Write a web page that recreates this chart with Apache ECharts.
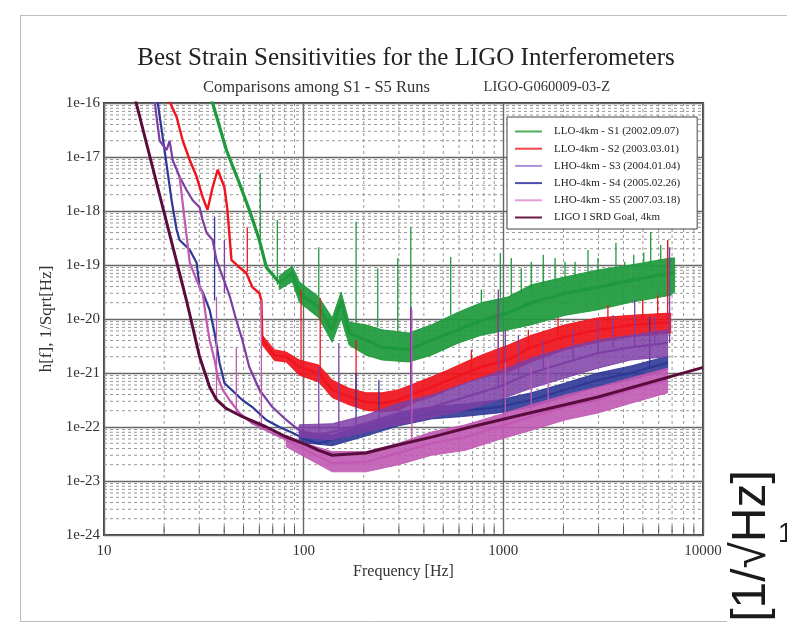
<!DOCTYPE html>
<html><head><meta charset="utf-8">
<script src="https://cdn.jsdelivr.net/npm/echarts@6/dist/echarts.min.js"></script>
<style>html,body{margin:0;padding:0;background:#fff}#c{width:787px;height:635px}</style>
</head><body><div id="c"></div>
<script>
// ---------------- DATA ----------------
const legendNames = ['LLO-4km - S1 (2002.09.07)','LLO-4km - S2 (2003.03.01)','LHO-4km - S3 (2004.01.04)','LHO-4km - S4 (2005.02.26)','LHO-4km - S5 (2007.03.18)','LIGO I SRD Goal, 4km'];
const xTicks = [10, 100, 1000, 10000];
const yTickExp = [-24,-23,-22,-21,-20,-19,-18,-17,-16];

// S1 (green)
const s1Freq = [34, 35.0, 41.0, 47.6, 53.4, 60.0, 65.0, 75.5, 87.7, 95.1, 119, 139, 154, 169, 205, 247, 336, 437, 597, 776, 1059, 1380, 2037, 2978, 4350, 6890, 7210];
const s1H = [1.45e-16, 1.0e-16, 1.35e-17, 3.3e-18, 1.05e-18, 2.9e-19, 9.1e-20, 4.7e-20, 7.1e-20, 3.0e-20, 1.66e-20, 6.3e-21, 2.24e-20, 5.5e-21, 4.1e-21, 3.0e-21, 2.7e-21, 4.1e-21, 6.3e-21, 9.5e-21, 1.3e-20, 2.0e-20, 3.0e-20, 3.9e-20, 5.2e-20, 7.1e-20, 7.3e-20];
const s1BandFreq = [75.5, 87.7, 95.1, 119, 139, 154, 169, 205, 247, 336, 437, 597, 776, 1059, 1380, 2037, 2978, 4350, 6890, 7210];
const s1BandHi = [6.3e-20, 9.5e-20, 4.9e-20, 2.57e-20, 1.05e-20, 3.16e-20, 8.7e-21, 7.8e-21, 6.3e-21, 5.5e-21, 7.8e-21, 1.35e-20, 2.0e-20, 2.57e-20, 4.3e-20, 6.0e-20, 8.1e-20, 1.0e-19, 1.35e-19, 1.35e-19];
const s1BandLo = [3.5e-20, 4.9e-20, 2.04e-20, 1.05e-20, 3.7e-21, 1.05e-20, 3.3e-21, 2.14e-21, 1.74e-21, 1.6e-21, 2.14e-21, 3.6e-21, 5.0e-21, 6.3e-21, 7.8e-21, 1.17e-20, 1.48e-20, 2.04e-20, 2.75e-20, 3.16e-20];
const s1SpikeFreq = [60.6, 73.8, 119, 183, 235, 296, 344, 545, 776, 966, 1096, 1230, 1380, 1585, 1816, 2037, 2286, 2655, 2978, 3664, 4055, 4500, 5050, 5470, 6140, 6650];
const s1SpikeBase = [2.9e-19, 4.3e-20, 2.57e-20, 8e-21, 7e-21, 6e-21, 6e-21, 1.2e-20, 2e-20, 2.5e-20, 2.6e-20, 3e-20, 3.5e-20, 4e-20, 5e-20, 5.5e-20, 6e-20, 7e-20, 7.5e-20, 9e-20, 9e-20, 9.5e-20, 1e-19, 1.1e-19, 1.2e-19, 1.3e-19];
const s1SpikeTop = [5.0e-18, 6.8e-19, 2.14e-19, 6.3e-19, 8.7e-20, 1.35e-19, 5.0e-19, 1.41e-19, 3.5e-20, 1.66e-19, 1.35e-19, 8.7e-20, 1.15e-19, 1.55e-19, 1.35e-19, 1.15e-19, 1.15e-19, 1.9e-19, 1.35e-19, 2.57e-19, 1.15e-19, 1.55e-19, 1.7e-19, 4.1e-19, 2.34e-19, 2.9e-19];

// S2 (red)
const s2Freq = [20.6, 23.1, 24.8, 26.9, 29.1, 31.2, 33.0, 35.0, 37.1, 40.1, 41.5, 43.5, 47.6, 51.6, 55.3, 60.0, 61.4, 62.1, 71.3, 81.8, 95.1, 119, 139, 169, 205, 247, 299, 364, 437, 532, 646, 776, 1059, 1380, 2037, 2978, 4350, 6890];
const s2H = [1.4e-16, 5.5e-17, 2.0e-17, 8.7e-18, 4.3e-18, 1.8e-18, 1.05e-18, 2.75e-18, 5.8e-18, 2.75e-18, 1.05e-18, 1.23e-19, 9.1e-20, 7.1e-20, 3.9e-20, 3.0e-20, 2.24e-20, 4.1e-21, 2.14e-21, 2.0e-21, 1.29e-21, 1.0e-21, 4.9e-22, 3.6e-22, 2.9e-22, 2.75e-22, 3.16e-22, 4.3e-22, 5.5e-22, 7.4e-22, 1.0e-21, 1.29e-21, 1.74e-21, 3.0e-21, 4.7e-21, 6.3e-21, 7.8e-21, 8.7e-21];
const s2BandFreq = [62.1, 71.3, 81.8, 95.1, 119, 139, 169, 205, 247, 299, 364, 437, 532, 646, 776, 1059, 1380, 2037, 2978, 4350, 6890];
const s2BandHi = [5.0e-21, 2.7e-21, 2.45e-21, 1.74e-21, 1.41e-21, 7.4e-22, 5.2e-22, 4.3e-22, 4.3e-22, 4.9e-22, 6.5e-22, 8.5e-22, 1.15e-21, 1.6e-21, 2.14e-21, 3.3e-21, 5.0e-21, 7.8e-21, 1.05e-20, 1.17e-20, 1.29e-20];
const s2BandLo = [3.3e-21, 1.7e-21, 1.6e-21, 9.1e-22, 6.8e-22, 3.5e-22, 2.57e-22, 2.04e-22, 1.9e-22, 2.04e-22, 2.9e-22, 3.6e-22, 4.9e-22, 6.5e-22, 8.1e-22, 1.05e-21, 1.6e-21, 2.7e-21, 3.7e-21, 4.7e-21, 5.5e-21];
const s2SpikeFreq = [52.2, 97.0, 121, 183, 344, 692, 944, 1334, 1880, 3340, 4990, 5930, 6650];
const s2SpikeBase = [7.4e-20, 1.3e-21, 1.0e-21, 4e-22, 4.5e-22, 1.1e-21, 1.5e-21, 3e-21, 5e-21, 8e-21, 1e-20, 1.1e-20, 1e-20];
const s2SpikeTop = [5.0e-19, 3.5e-20, 2.45e-20, 4.1e-21, 1.48e-20, 2.7e-21, 1.66e-20, 6.3e-21, 1.05e-20, 1.82e-20, 2.24e-20, 2.75e-20, 2.9e-19];

// S3 (purple)
const s3Freq = [17.7, 18.0, 18.4, 19.0, 20.6, 21.3, 22.1, 23.9, 25.9, 27.8, 30.1, 31.2, 32.7, 35.0, 36.6, 39.3, 42.5, 46.0, 49.3, 53.4, 60.0, 69.7, 81.8, 95.1, 119, 139, 205, 299, 437, 646, 944, 1380, 2037, 2978, 4350, 6650];
const s3H = [1.4e-16, 1.0e-16, 4.9e-17, 2.0e-17, 1.35e-17, 2.0e-17, 8.7e-18, 4.3e-18, 2.45e-18, 1.58e-18, 1.17e-18, 6.8e-19, 3.9e-19, 2.9e-19, 1.23e-19, 6.0e-20, 2.75e-20, 9.5e-21, 4.1e-21, 1.29e-21, 4.9e-22, 2.34e-22, 1.35e-22, 8.7e-23, 7.1e-23, 8.1e-23, 1.17e-22, 1.82e-22, 2.34e-22, 3.6e-22, 5.5e-22, 1.0e-21, 1.55e-21, 2.34e-21, 3.0e-21, 3.6e-21];
const s3BandFreq = [95.1, 139, 205, 299, 437, 646, 944, 1380, 2037, 2978, 4350, 6650];
const s3BandHi = [1.1e-22, 1.15e-22, 1.66e-22, 2.75e-22, 3.9e-22, 6.5e-22, 1.05e-21, 1.9e-21, 2.9e-21, 4.1e-21, 5.0e-21, 6.3e-21];
const s3BandLo = [6.5e-23, 5.8e-23, 8.1e-23, 1.1e-22, 1.48e-22, 2.04e-22, 3.16e-22, 5.2e-22, 8.1e-22, 1.23e-21, 1.74e-21, 2.0e-21];
const s3SpikeFreq = [40.1, 119, 150, 344, 944, 1023, 1190, 1585, 2234, 2978, 3540, 4550, 5730, 6800];
const s3SpikeBase = [3.0e-20, 7e-23, 8e-23, 2e-22, 5e-22, 8e-22, 9e-22, 1.2e-21, 1.8e-21, 2.5e-21, 3e-21, 3e-21, 3.3e-21, 3.6e-21];
const s3SpikeTop = [2.9e-19, 1.29e-21, 3.6e-21, 1.66e-20, 3.5e-20, 6.3e-21, 5.0e-21, 4.1e-21, 6.3e-21, 9.5e-21, 1.17e-20, 2.24e-20, 1.1e-20, 2.14e-19];

// S4 (blue)
const s4Freq = [18.2, 18.6, 20.1, 21.8, 23.1, 23.9, 26.9, 29.1, 30.1, 31.2, 33.8, 35.8, 37.9, 40.1, 43.5, 49.3, 55.3, 65.0, 75.5, 87.7, 103, 119, 139, 205, 299, 437, 646, 944, 1380, 2037, 2978, 4350, 6650];
const s4H = [1.4e-16, 1.0e-16, 1.35e-17, 1.58e-18, 4.5e-19, 2.9e-19, 1.9e-19, 1.1e-19, 3.9e-20, 3.16e-20, 1.48e-20, 5.5e-21, 1.55e-21, 6.5e-22, 4.9e-22, 3.16e-22, 2.34e-22, 1.35e-22, 1.0e-22, 7.8e-23, 5.8e-23, 5.0e-23, 5.8e-23, 8.7e-23, 1.35e-22, 1.82e-22, 2.04e-22, 2.34e-22, 3.16e-22, 4.9e-22, 7.4e-22, 1.0e-21, 1.55e-21];
const s4BandFreq = [95.1, 139, 205, 299, 437, 646, 944, 1380, 2037, 2978, 4350, 6650];
const s4BandHi = [8.1e-23, 7.1e-23, 1.15e-22, 1.74e-22, 2.34e-22, 2.7e-22, 3.16e-22, 4.3e-22, 6.5e-22, 1.0e-21, 1.35e-21, 2.04e-21];
const s4BandLo = [5.2e-23, 4.5e-23, 6.8e-23, 1.05e-22, 1.41e-22, 1.58e-22, 1.82e-22, 2.34e-22, 3.6e-22, 5.5e-22, 7.4e-22, 1.15e-21];
const s4SpikeFreq = [35.8, 183, 238, 344, 5410];
const s4SpikeBase = [2.2e-20, 8e-23, 1.0e-22, 1.6e-22, 1.2e-21];
const s4SpikeTop = [7.8e-19, 1.0e-21, 7.4e-22, 1.66e-20, 1.1e-20];

// S5 (pink)
const s5Freq = [23.9, 26.9, 29.1, 31.2, 32.7, 33.8, 35.8, 37.1, 39.3, 42.5, 47.6, 55.3, 65.0, 81.8, 103, 139, 205, 299, 437, 646, 944, 1380, 2037, 2978, 4350, 6650];
const s5H = [4.3e-18, 1.1e-19, 5.2e-20, 3.0e-20, 8.5e-21, 4.1e-21, 1.74e-21, 8.5e-22, 4.9e-22, 3.16e-22, 1.82e-22, 1.17e-22, 8.7e-23, 5.8e-23, 3.7e-23, 2.14e-23, 2.24e-23, 3.3e-23, 5.0e-23, 6.5e-23, 1.0e-22, 1.55e-22, 2.34e-22, 3.16e-22, 4.9e-22, 7.4e-22];
const s5BandFreq = [81.8, 103, 139, 205, 299, 437, 646, 944, 1380, 2037, 2978, 4350, 6650];
const s5BandHi = [7.1e-23, 4.9e-23, 3.5e-23, 3.5e-23, 5.0e-23, 8.1e-23, 1.1e-22, 1.66e-22, 2.57e-22, 3.9e-22, 5.5e-22, 8.1e-22, 1.23e-21];
const s5BandLo = [4.3e-23, 2.7e-23, 1.48e-23, 1.48e-23, 2.0e-23, 3.0e-23, 3.7e-23, 5.8e-23, 8.7e-23, 1.35e-22, 1.82e-22, 2.75e-22, 4.3e-22];
const s5SpikeFreq = [36.6, 46.0, 61.4, 348, 1023, 1380, 1677];
const s5SpikeBase = [3.2e-22, 1.9e-22, 1.0e-22, 5e-23, 1.1e-22, 1.6e-22, 2e-22];
const s5SpikeTop = [2.57e-20, 3.0e-21, 2.24e-20, 1.48e-20, 1.55e-21, 1.29e-21, 1.74e-21];

// SRD goal (maroon)
const srdFreq = [14.0, 14.5, 25.9, 30.1, 33.8, 36.6, 41.0, 49.3, 65, 82, 103, 119, 139, 205, 299, 437, 646, 1059, 2980, 9730, 10000];
const srdH = [1.6e-16, 1.0e-16, 2.2e-20, 2.0e-21, 5.5e-22, 3.2e-22, 2.2e-22, 1.55e-22, 1.0e-22, 6.5e-23, 4.7e-23, 3.7e-23, 3.0e-23, 3.3e-23, 4.7e-23, 6.5e-23, 9.5e-23, 1.47e-22, 3.6e-22, 1.23e-21, 1.27e-21];

// minor grid mantissas
const minorMant = [2,3,4,5,6,7,8,9];
const xDecades = [10, 100, 1000];
const yDecadeExp = [-24,-23,-22,-21,-20,-19,-18,-17];

// ---------------- STYLE / BUILD ----------------
const SERIF = '"Liberation Serif", "Times New Roman", serif';
const SANS = '"Liberation Sans", Arial, sans-serif';
const COL = { s1:'#1e9a3c', s2:'#f0141e', s3:'#7d3ea6', s4:'#2f3896', s5:'#c159b3', srd:'#5a0d3c' };
const LEGCOL = ['#4fae5c', '#f04848', '#b08ed6', '#4a50b0', '#e29ed6', '#6a1846'];

// the y axis is a value axis over log10(h) (exponent of the strain value)
const L = v => Math.log10(v);
const Y_MIN = yTickExp[0], Y_MAX = yTickExp[yTickExp.length - 1];
const pairs = (f, h) => f.map((v, i) => [v, L(h[i])]);

const minorX = [];
xDecades.forEach(d => minorMant.forEach(m => minorX.push([m * d, Y_MIN])));
const minorY = [];
yDecadeExp.forEach(e => minorMant.forEach(m => minorY.push([10, e + L(m)])));

function lineSeries(name, f, h, color, width, z) {
  return { type: 'line', name, data: pairs(f, h), symbol: 'none', showSymbol: false, z,
    lineStyle: { color, width }, itemStyle: { color }, clip: true, silent: true, animation: false };
}
function bandSeries(id, f, lo, hi, color, z, op) {
  return { type: 'custom', name: id, z, silent: true, clip: true, animation: false,
    data: [[f[0], L(lo[0])]], encode: { x: 0, y: 1 },
    renderItem(params, api) {
      const pts = [];
      for (let i = 0; i < f.length; i++) pts.push(api.coord([f[i], L(hi[i])]));
      for (let i = f.length - 1; i >= 0; i--) pts.push(api.coord([f[i], L(lo[i])]));
      return { type: 'polygon', shape: { points: pts }, style: { fill: color, stroke: color, lineWidth: 1, opacity: op } };
    } };
}
function spikeSeries(id, f, base, top, color, z) {
  return { type: 'custom', name: id, z, silent: true, clip: true, animation: false,
    data: f.map((v, i) => [v, L(base[i]), L(top[i])]), encode: { x: 0, y: [1, 2] },
    renderItem(params, api) {
      const a = api.coord([api.value(0), api.value(1)]);
      const b = api.coord([api.value(0), api.value(2)]);
      return { type: 'line', shape: { x1: a[0], y1: a[1], x2: b[0], y2: b[1] }, style: { stroke: color, lineWidth: 1.3 } };
    } };
}

const gridXSeries = { type: 'custom', name: 'gx', z: 1, silent: true, animation: false,
  data: minorX, encode: { x: 0, y: 1 },
  renderItem(params, api) {
    const t = api.coord([api.value(0), Y_MAX]);
    const b = api.coord([api.value(0), Y_MIN]);
    return { type: 'group', children: [
      { type: 'line', shape: { x1: t[0], y1: t[1], x2: b[0], y2: b[1] }, style: { stroke: '#8c8c8c', lineWidth: 0.9, lineDash: [3, 3] } },
      { type: 'line', shape: { x1: b[0], y1: b[1], x2: b[0], y2: b[1] - 9 }, style: { stroke: '#555', lineWidth: 1 } }
    ] };
  } };
const gridYSeries = { type: 'custom', name: 'gy', z: 1, silent: true, animation: false,
  data: minorY, encode: { x: 0, y: 1 },
  renderItem(params, api) {
    const l = api.coord([xTicks[0], api.value(1)]);
    const r = api.coord([xTicks[xTicks.length - 1], api.value(1)]);
    return { type: 'line', shape: { x1: l[0], y1: l[1], x2: r[0], y2: r[1] }, style: { stroke: '#8c8c8c', lineWidth: 0.9, lineDash: [3, 3] } };
  } };

const chart = echarts.init(document.getElementById('c'), null, { renderer: 'canvas' });
chart.setOption({
  animation: false,
  backgroundColor: '#fff',
  title: {
    text: 'Best Strain Sensitivities for the LIGO Interferometers',
    left: 406, top: 46, textAlign: 'center', padding: 0,
    textStyle: { fontFamily: SERIF, fontSize: 25, fontWeight: 'normal', color: '#222' }
  },
  legend: {
    orient: 'vertical', left: 507, top: 117, z: 20, selectedMode: false,
    backgroundColor: '#fff', borderColor: '#444', borderWidth: 1,
    padding: [8, 17, 5, 7], itemGap: 4.2, itemWidth: 27, itemHeight: 10,
    textStyle: { fontFamily: SERIF, fontSize: 11, color: '#222', lineHeight: 13, padding: [0, 0, 0, 7] },
    data: legendNames.map((n, i) => ({ name: n, lineStyle: { color: LEGCOL[i] }, itemStyle: { opacity: 0 } }))
  },
  grid: { left: 104, right: 84, top: 103, bottom: 100, show: true, borderColor: '#444', borderWidth: 2, backgroundColor: '#fff' },
  xAxis: {
    type: 'log', logBase: 10, min: xTicks[0], max: xTicks[xTicks.length - 1], splitNumber: 3,
    name: 'Frequency [Hz]', nameLocation: 'middle', nameGap: 22,
    nameTextStyle: { fontFamily: SERIF, fontSize: 16, color: '#333' },
    axisLine: { show: false }, axisTick: { show: false },
    axisLabel: { fontFamily: SERIF, fontSize: 15, color: '#333', margin: 9, formatter: v => String(Math.round(v)) },
    splitLine: { show: true, lineStyle: { color: '#666', width: 1.4 } }
  },
  yAxis: {
    type: 'value', min: Y_MIN, max: Y_MAX, interval: 1,
    name: 'h[f], 1/Sqrt[Hz]', nameLocation: 'middle', nameGap: 47, nameRotate: 90,
    nameTextStyle: { fontFamily: SERIF, fontSize: 17, color: '#333' },
    axisLine: { show: false }, axisTick: { show: false },
    axisLabel: { fontFamily: SERIF, fontSize: 15, color: '#333', margin: 4, formatter: v => '1e' + Math.round(v) },
    splitLine: { show: true, lineStyle: { color: '#666', width: 1.4 } }
  },
  graphic: [
    { type: 'line', shape: { x1: 20, y1: 15.5, x2: 787, y2: 15.5 }, style: { stroke: '#bdbdbd', lineWidth: 1 }, silent: true },
    { type: 'line', shape: { x1: 20.5, y1: 15, x2: 20.5, y2: 621 }, style: { stroke: '#bdbdbd', lineWidth: 1 }, silent: true },
    { type: 'line', shape: { x1: 20, y1: 621.5, x2: 727, y2: 621.5 }, style: { stroke: '#bdbdbd', lineWidth: 1 }, silent: true },
    { type: 'text', left: 203, top: 79, style: { text: 'Comparisons among S1 - S5 Runs', font: '16.5px ' + SERIF, fill: '#333' }, silent: true },
    { type: 'text', right: 177, top: 80, style: { text: 'LIGO-G060009-03-Z', font: '14.5px ' + SERIF, fill: '#333' }, silent: true },
    { type: 'text', x: 752, y: 546, rotation: Math.PI / 2, style: { text: '[1/\u221AHz]', font: '48px ' + SANS, fill: '#1a1a1a', align: 'center', verticalAlign: 'middle' }, silent: true },
    { type: 'text', x: 778, y: 520, style: { text: '1', font: '28px ' + SANS, fill: '#1a1a1a' }, silent: true }
  ],
  series: [
    lineSeries(legendNames[0], s1Freq, s1H, COL.s1, 3.2, 3),
    lineSeries(legendNames[1], s2Freq, s2H, COL.s2, 2.4, 4),
    lineSeries(legendNames[2], s3Freq, s3H, COL.s3, 2.2, 6),
    lineSeries(legendNames[3], s4Freq, s4H, COL.s4, 2.2, 5),
    lineSeries(legendNames[4], s5Freq, s5H, COL.s5, 2.2, 7),
    lineSeries(legendNames[5], srdFreq, srdH, COL.srd, 3, 9),
    gridXSeries, gridYSeries,
    bandSeries('b1', s1BandFreq, s1BandLo, s1BandHi, COL.s1, 3, 0.93),
    bandSeries('b2', s2BandFreq, s2BandLo, s2BandHi, COL.s2, 4, 0.93),
    bandSeries('b3', s3BandFreq, s3BandLo, s3BandHi, COL.s3, 6, 0.85),
    bandSeries('b4', s4BandFreq, s4BandLo, s4BandHi, COL.s4, 5, 0.9),
    bandSeries('b5', s5BandFreq, s5BandLo, s5BandHi, COL.s5, 7, 0.9),
    spikeSeries('p1', s1SpikeFreq, s1SpikeBase, s1SpikeTop, COL.s1, 3),
    spikeSeries('p2', s2SpikeFreq, s2SpikeBase, s2SpikeTop, COL.s2, 4),
    spikeSeries('p3', s3SpikeFreq, s3SpikeBase, s3SpikeTop, COL.s3, 6),
    spikeSeries('p4', s4SpikeFreq, s4SpikeBase, s4SpikeTop, COL.s4, 5),
    spikeSeries('p5', s5SpikeFreq, s5SpikeBase, s5SpikeTop, COL.s5, 7)
  ]
});
</script>
</body></html>
